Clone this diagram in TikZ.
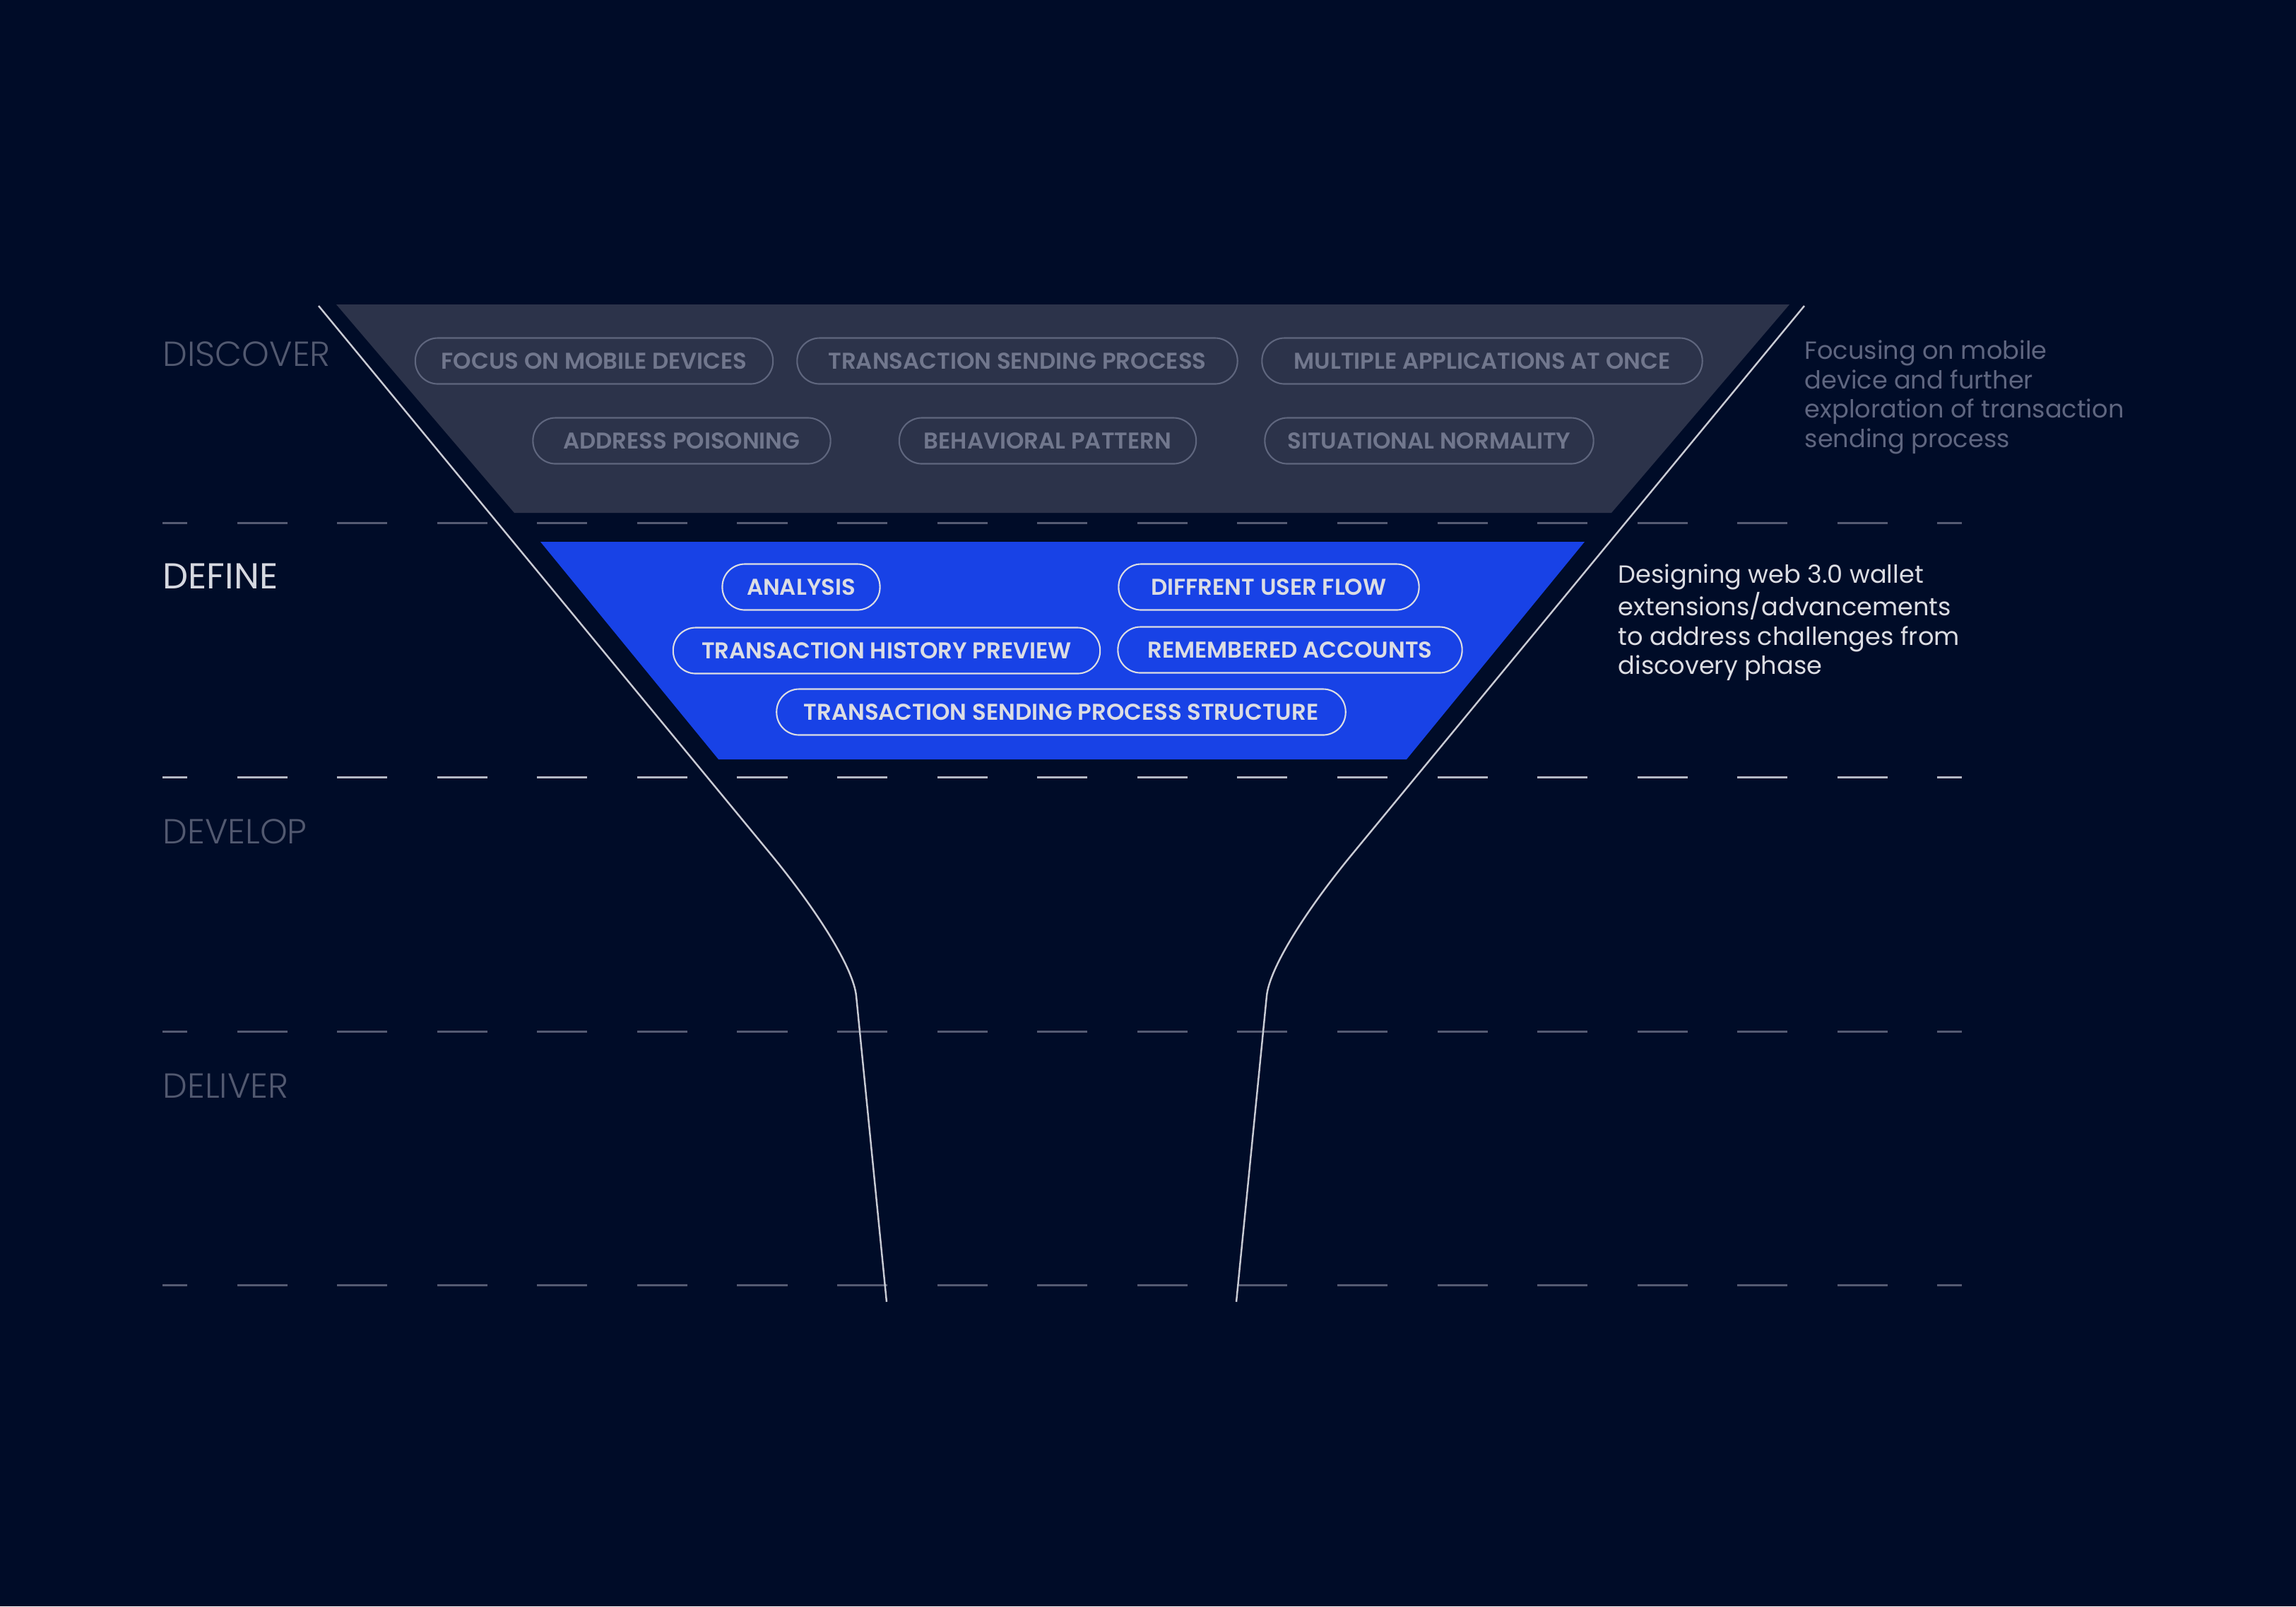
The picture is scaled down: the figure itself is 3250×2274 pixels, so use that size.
\documentclass[tikz,border=0pt]{standalone}
\usepackage{fontspec}
\setmainfont{Poppins}
\newfontfamily\lightfont{Poppins}[UprightFont=* Light]
\newfontfamily\mediumfont{Poppins}[UprightFont=* SemiBold]
\definecolor{bgnavy}{HTML}{000C28}
\definecolor{discovergray}{HTML}{2C334A}
\definecolor{defineblue}{HTML}{1842E6}
\definecolor{chipgray}{HTML}{5F667E}
\definecolor{chiptext}{HTML}{71778D}
\definecolor{stagedim}{HTML}{525970}
\definecolor{stagelit}{HTML}{D6D8E0}
\definecolor{linedim}{HTML}{555B73}
\definecolor{linelit}{HTML}{B4B8C4}
\definecolor{funnelline}{HTML}{C8CBD4}
\definecolor{notedim}{HTML}{5F6680}
\definecolor{notelit}{HTML}{DCDDE3}
\begin{document}
\begin{tikzpicture}[x=0.01cm,y=-0.01cm]
  \tikzstyle{dchip}=[draw=chipgray,line width=0.6pt,rounded corners=3.2mm,minimum height=6.5mm,inner xsep=0pt,text=chiptext,font=\mediumfont\fontsize{9.2}{10}\selectfont]
  \tikzstyle{bchip}=[draw=notelit,line width=0.6pt,rounded corners=3.2mm,minimum height=6.5mm,inner xsep=0pt,text=notelit,font=\mediumfont\fontsize{9.2}{10}\selectfont]
  \tikzstyle{stage}=[anchor=base west,inner sep=0pt,text=stagedim,font=\lightfont\fontsize{14}{17}\selectfont]
  \tikzstyle{stageline}=[line width=0.85pt,dash pattern=on 0.71cm off 0.705cm,dash phase=0.36cm]
  \tikzstyle{funnel}=[draw=funnelline,line width=0.7pt]
  \tikzstyle{note}=[anchor=north west,inner sep=0pt,align=left,font=\fontsize{10}{11.85}\selectfont]
  \fill[bgnavy] (0,0) rectangle (3250,2274);
  \fill[discovergray] (476,431) -- (2533,431) -- (2281,726) -- (728,726) -- cycle;
  \fill[defineblue] (765,767) -- (2243,767) -- (1991,1075) -- (1017,1075) -- cycle;
  \foreach \y in {740,1460,1819}
    \draw[stageline,draw=linedim] (230,\y) -- (2777,\y);
  \draw[stageline,draw=linelit] (230,1100) -- (2777,1100);
  \path[funnel] (451,433) -- (1090,1208) .. controls (1156,1288) and (1208,1370) .. (1212,1410) -- (1255,1843);
  \path[funnel] (2554,433) -- (1915,1208) .. controls (1849,1288) and (1797,1370) .. (1793,1410) -- (1750,1843);
  \node[stage] (discover) at (230,518) {DISCOVER};
  \node[stage,text=stagelit,font=\fontsize{14.5}{17}\selectfont] (define) at (230,833) {DEFINE};
  \node[stage] (develop) at (230,1194) {DEVELOP};
  \node[stage] (deliver) at (230,1554) {DELIVER};
  \node[dchip,minimum width=5.06cm] (mobile) at (841,511) {FOCUS ON MOBILE DEVICES};
  \node[dchip,minimum width=6.23cm] (sending) at (1440,511) {TRANSACTION SENDING PROCESS};
  \node[dchip,minimum width=6.23cm] (multiple) at (2098,511) {MULTIPLE APPLICATIONS AT ONCE};
  \node[dchip,minimum width=4.21cm] (poisoning) at (965,624) {ADDRESS POISONING};
  \node[dchip,minimum width=4.20cm] (behavior) at (1483,624) {BEHAVIORAL PATTERN};
  \node[dchip,minimum width=4.65cm] (normality) at (2023,624) {SITUATIONAL NORMALITY};
  \node[bchip,minimum width=2.23cm] (analysis) at (1134,831) {ANALYSIS};
  \node[bchip,minimum width=4.25cm] (userflow) at (1796,831) {DIFFRENT USER FLOW};
  \node[bchip,minimum width=6.04cm] (history) at (1255,921) {TRANSACTION HISTORY PREVIEW};
  \node[bchip,minimum width=4.87cm] (accounts) at (1826,920) {REMEMBERED ACCOUNTS};
  \node[bchip,minimum width=8.05cm] (structure) at (1502,1008) {TRANSACTION SENDING PROCESS STRUCTURE};
  \node[note,text=notedim] (discovernote) at (2554,481) {Focusing on mobile\\device and further\\exploration of transaction\\sending process};
  \node[note,text=notelit] (definenote) at (2290,798) {Designing web 3.0 wallet\\extensions/advancements\\to address challenges from\\discovery phase};
\end{tikzpicture}
\end{document}
